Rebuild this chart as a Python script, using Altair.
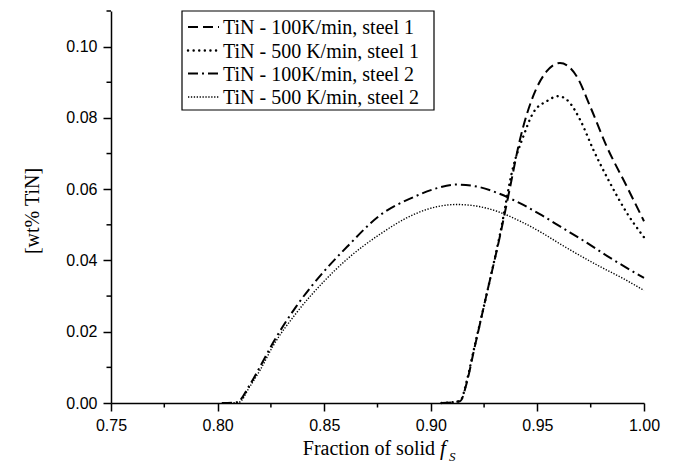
import altair as alt
import pandas as pd

# ---------------- data ----------------
s1_100_fs = [0.905, 0.9137, 0.917, 0.920, 0.926, 0.9325, 0.937, 0.9418, 0.948, 0.9544, 0.9606, 0.9684, 0.9747, 0.9825, 0.9919, 1.0]
s1_100_v = [0.0, 0.0005, 0.006, 0.0141, 0.030, 0.047, 0.060, 0.0739, 0.0861, 0.0931, 0.0954, 0.0917, 0.0833, 0.0720, 0.0608, 0.0510]

s1_500_fs = [0.905, 0.9137, 0.917, 0.920, 0.926, 0.9325, 0.9387, 0.9434, 0.948, 0.9544, 0.9598, 0.9645, 0.970, 0.9762, 0.984, 0.9919, 1.0]
s1_500_v = [0.0, 0.0005, 0.0065, 0.0145, 0.030, 0.0475, 0.0664, 0.0748, 0.0814, 0.0847, 0.0861, 0.0847, 0.0795, 0.0711, 0.0618, 0.0534, 0.0465]

s2_100_fs = [0.802, 0.809, 0.815, 0.820, 0.826, 0.837, 0.850, 0.861, 0.876, 0.892, 0.903, 0.912, 0.922, 0.931, 0.942, 0.952, 0.961, 0.9715, 0.985, 1.0]
s2_100_v = [0.0, 0.0002, 0.005, 0.0103, 0.0169, 0.0272, 0.0370, 0.0440, 0.0526, 0.0578, 0.0603, 0.0613, 0.0607, 0.0590, 0.0560, 0.0527, 0.0494, 0.0456, 0.0404, 0.0351]

s2_500_fs = [0.802, 0.810, 0.815, 0.820, 0.826, 0.837, 0.850, 0.861, 0.876, 0.892, 0.903, 0.912, 0.922, 0.931, 0.942, 0.952, 0.961, 0.979, 0.990, 1.0]
s2_500_v = [0.0, 0.0002, 0.0045, 0.0093, 0.0160, 0.0253, 0.0342, 0.0405, 0.0473, 0.0529, 0.0551, 0.0557, 0.0552, 0.0538, 0.0510, 0.0478, 0.0445, 0.0384, 0.0350, 0.0316]

legend_labels = [
    "TiN - 100K/min, steel 1",
    "TiN - 500 K/min, steel 1",
    "TiN - 100K/min, steel 2",
    "TiN - 500 K/min, steel 2",
]

x_major = [0.75, 0.80, 0.85, 0.90, 0.95, 1.00]
x_minor = [0.775, 0.825, 0.875, 0.925, 0.975]
y_major = [0.00, 0.02, 0.04, 0.06, 0.08, 0.10]
y_minor = [0.01, 0.03, 0.05, 0.07, 0.09, 0.11]

# ---------------- chart ----------------
W, H = 533, 392
SERIF = "Liberation Serif"
SANS = "Liberation Sans"

xscale = alt.Scale(domain=[0.75, 1.0], nice=False, zero=False)
yscale = alt.Scale(domain=[0.0, 0.11], nice=False)

axis_common = dict(format=".2f", title=None, tickSize=8, tickWidth=1.5,
                   domainWidth=1.5, labelFont=SANS, labelFontSize=16, labelPadding=6,
                   labelColor="black", domainColor="black", tickColor="black", grid=False,
                   labelFlush=False)
xaxis = alt.Axis(values=x_major, **axis_common)
yaxis = alt.Axis(values=y_major, **axis_common)


def series(fs, v, dash, width, cap="butt"):
    df = pd.DataFrame({"fs": fs, "v": v})
    return alt.Chart(df).mark_line(
        color="black", strokeWidth=width, strokeDash=dash, strokeCap=cap,
        interpolate="monotone", clip=False
    ).encode(
        x=alt.X("fs:Q", scale=xscale, axis=xaxis),
        y=alt.Y("v:Q", scale=yscale, axis=yaxis),
    )


DASH = [10, 5]
DOT = [0.1, 5.5]
DASHDOT = [10, 4, 2, 4]
FINEDOT = [1.3, 1.6]

l1 = series(s1_100_fs, s1_100_v, DASH, 2.0)
l2 = series(s1_500_fs, s1_500_v, DOT, 2.4, cap="round")
l3 = series(s2_100_fs, s2_100_v, DASHDOT, 2.0)
l4 = series(s2_500_fs, s2_500_v, FINEDOT, 1.4)

# minor ticks
xminor = alt.Chart(pd.DataFrame({"t": x_minor})).mark_rule(color="black", strokeWidth=1.5).encode(
    x=alt.X("t:Q", scale=xscale, axis=xaxis), y=alt.value(H), y2=alt.value(H + 4.5))
yminor = alt.Chart(pd.DataFrame({"t": y_minor})).mark_rule(color="black", strokeWidth=1.5).encode(
    y=alt.Y("t:Q", scale=yscale, axis=yaxis), x=alt.value(0), x2=alt.value(-4.5))

one = pd.DataFrame({"k": [0]})

# legend
LX0, LX1, LY0, LY1 = 71, 323, 0, 99
box = alt.Chart(one).mark_rect(fill="white", stroke="black", strokeWidth=1.2).encode(
    x=alt.value(LX0), x2=alt.value(LX1), y=alt.value(LY0), y2=alt.value(LY1))

rows = [16, 39.5, 62.5, 86]
styles = [(DASH, 2.0, "butt"), (DOT, 2.4, "round"), (DASHDOT, 2.0, "butt"), (FINEDOT, 1.4, "butt")]
leg_layers = [box]
for ry, (dash, w, cap), lab in zip(rows, styles, legend_labels):
    leg_layers.append(alt.Chart(one).mark_rule(color="black", strokeWidth=w, strokeDash=dash,
                                                strokeCap=cap).encode(
        x=alt.value(77), x2=alt.value(108), y=alt.value(ry)))
    leg_layers.append(alt.Chart(one).mark_text(font=SERIF, fontSize=20, align="left",
                                                baseline="middle", color="black").encode(
        x=alt.value(112), y=alt.value(ry + 1), text=alt.value(lab)))

# axis titles
ytitle = alt.Chart(one).mark_text(font=SERIF, fontSize=20, angle=270, align="center",
                                  baseline="middle", color="black").encode(
    x=alt.value(-78), y=alt.value(200), text=alt.value("[wt% TiN]"))
xt1 = alt.Chart(one).mark_text(font=SERIF, fontSize=20, align="right", baseline="alphabetic",
                               color="black").encode(
    x=alt.value(324), y=alt.value(444), text=alt.value("Fraction of solid"))
xt2 = alt.Chart(one).mark_text(font=SERIF, fontSize=21, fontStyle="italic", align="left",
                               baseline="alphabetic", color="black").encode(
    x=alt.value(329), y=alt.value(444), text=alt.value("f"))
xt3 = alt.Chart(one).mark_text(font=SERIF, fontSize=13, fontStyle="italic", align="left",
                               baseline="alphabetic", color="black").encode(
    x=alt.value(338), y=alt.value(450), text=alt.value("S"))

chart = alt.layer(
    l1, l2, l3, l4, xminor, yminor, *leg_layers, ytitle, xt1, xt2, xt3
).properties(
    width=W, height=H,
    autosize=alt.AutoSizeParams(type="none"),
    padding={"left": 103, "top": 3, "right": 22, "bottom": 61},
    background="white",
).configure_view(stroke=None)

chart.save("out.html", embed_options={"renderer": "svg", "actions": False})
